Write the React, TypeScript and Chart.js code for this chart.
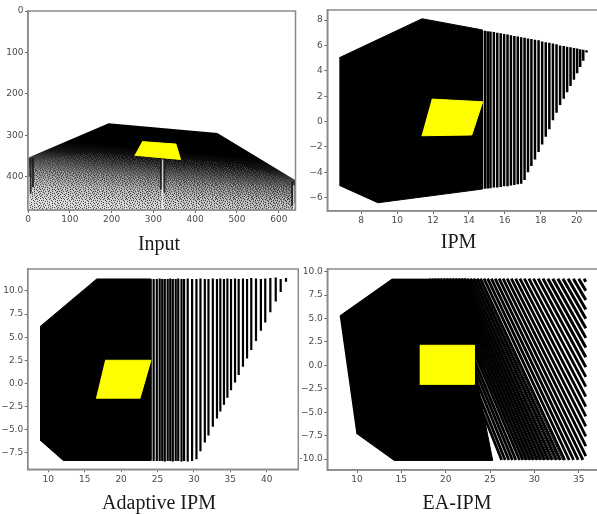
import React, { useEffect, useRef } from "react";
import { Chart, registerables } from "chart.js";

Chart.register(...registerables);

type Pt = [number, number];

// ---------- Input ----------
const inputHull: Pt[] = [[0, 354], [193, 271], [453, 294], [640, 408], [640, 480], [0, 480]];
const inputSpeckleA: Pt[] = [[2, 362], [150, 342], [300, 352], [500, 368], [638, 412], [638, 480], [2, 480]];
const inputSpeckleB: Pt[] = [[2, 380], [638, 425], [638, 480], [2, 480]];
const inputSpeckleC: Pt[] = [[2, 420], [638, 450], [638, 480], [2, 480]];
const inputYellow: Pt[] = [[273, 315], [354, 321], [365, 358], [255, 348]];
const inputDarkX = [6, 12, 318, 326, 632, 638];
const inputDarkTop = [356, 354, 358, 360, 412, 410];
const inputDarkBottom = [440, 425, 430, 438, 470, 465];
const inputLightX = [322, 2, 636];
const inputLightTop = [358, 400, 420];
const inputLightBottom = [480, 480, 480];
const inputXTicks = [0, 100, 200, 300, 400, 500, 600];
const inputYTicks = [0, 100, 200, 300, 400];
const inputGradientStops: [number, string][] = [
  [335, "#000000"], [360, "#161616"], [385, "#484848"], [410, "#787878"], [440, "#a8a8a8"], [480, "#d4d4d4"],
];
const speckleTile = [
  "#.o.#..o#.#o..#.o.",
  ".o#..o#...o.#o...#",
  "#..o#..#o#..o.#o..",
  ".#o...o..o#..#..o#",
  "o..#o#.#o...o..#..",
  ".#...o...#o#..o.#o",
  "..o#..#o..o..#.o..",
  "#o..#...#o.#o...#.",
  ".#.o..o#..o..#o..o",
  "o..#.#..o#..#..o#.",
  ".o#..o.#...o..#...",
  "#...#..o#o..#o.o#.",
  "..o#.o#...#...#..o",
  "o#...#..o.o#o...#.",
];

// ---------- IPM ----------
const ipmHull: Pt[] = [[6.78, 5.03], [11.39, 8.1], [14.75, 7.22], [14.75, -5.32], [8.93, -6.4], [6.78, -5.03]];
const ipmYellow: Pt[] = [[11.93, 1.77], [14.77, 1.56], [14.16, -1.06], [11.36, -1.12]];
const ipmStripeX = [20.55, 20.37, 20.2, 20.03, 19.85, 19.66, 19.47, 19.28, 19.08, 18.88, 18.68, 18.48, 18.28, 18.08, 17.88, 17.68, 17.48, 17.29, 17.1, 16.91, 16.72, 16.53, 16.34, 16.15, 15.96, 15.77, 15.58, 15.39, 15.2, 15.05, 14.89];
const ipmStripeTop = [5.62, 5.65, 5.7, 5.75, 5.8, 5.85, 5.9, 5.95, 6.0, 6.1, 6.15, 6.2, 6.25, 6.3, 6.4, 6.45, 6.5, 6.55, 6.6, 6.65, 6.7, 6.75, 6.8, 6.85, 6.9, 6.95, 7.0, 7.05, 7.1, 7.12, 7.15];
const ipmStripeBottom = [5.45, 4.8, 4.3, 3.8, 3.3, 2.8, 2.3, 1.8, 1.3, 0.7, 0.1, -0.6, -1.2, -1.8, -2.4, -3.0, -3.5, -4.0, -4.6, -4.9, -4.95, -5.0, -5.05, -5.1, -5.1, -5.15, -5.2, -5.2, -5.25, -5.27, -5.3];
const ipmXTicks = [8, 10, 12, 14, 16, 18, 20];
const ipmYTicks = [8, 6, 4, 2, 0, -2, -4, -6];

// ---------- Adaptive IPM ----------
const adaptiveHull: Pt[] = [[8.86, 6.14], [16.65, 11.3], [24.1, 11.3], [24.1, -8.35], [12.06, -8.35], [8.86, -6.13]];
const adaptiveYellow: Pt[] = [[17.8, 2.5], [24.1, 2.5], [22.6, -1.6], [16.55, -1.6]];
const adaptiveStripeX = [42.65, 41.92, 41.24, 40.5, 39.8, 39.2, 38.53, 37.88, 37.3, 36.74, 36.15, 35.65, 35.1, 34.6, 34.13, 33.63, 33.17, 32.6, 32.0, 31.5, 30.9, 30.35, 29.75, 29.15, 28.65, 28.3, 27.85, 27.5, 27.1, 26.75, 26.4, 26.0, 25.65, 25.3, 24.9, 24.47];
const adaptiveStripeTop = [11.4, 11.3, 11.45, 11.4, 11.35, 11.3, 11.35, 11.4, 11.3, 11.35, 11.3, 11.35, 11.3, 11.35, 11.3, 11.35, 11.3, 11.35, 11.3, 11.3, 11.35, 11.3, 11.3, 11.35, 11.3, 11.3, 11.35, 11.3, 11.3, 11.35, 11.3, 11.3, 11.3, 11.35, 11.3, 11.3];
const adaptiveStripeBottom = [11.0, 9.9, 8.85, 7.7, 6.6, 5.7, 4.6, 3.6, 2.7, 1.8, 0.9, 0.1, -0.75, -1.55, -2.3, -3.05, -3.8, -4.7, -5.65, -6.4, -7.35, -8.2, -8.4, -8.45, -8.4, -8.45, -8.4, -8.4, -8.45, -8.4, -8.4, -8.45, -8.4, -8.4, -8.4, -8.4];
const adaptiveXTicks = [10, 15, 20, 25, 30, 35, 40];
const adaptiveYTicks = [10, 7.5, 5, 2.5, 0, -2.5, -5, -7.5];

// ---------- EA-IPM ----------
const eaHull: Pt[] = [[8.05, 5.27], [13.95, 9.2], [22.4, 9.2], [23.3, 2], [23.6, -2], [25.3, -10.15], [14.2, -10.15], [9.92, -7.25]];
const eaYellow: Pt[] = [[17.07, 2.14], [23.23, 2.14], [23.23, -2.03], [17.07, -2.03]];
const eaWideStartX = [35.6, 35.0, 34.4, 33.8, 33.22, 32.65, 32.08, 31.52, 30.97, 30.43];
const eaWideEndY = [8.93, 7.97, 6.98, 5.97, 4.97, 3.96, 2.93, 1.9, 0.86, -0.19];
const eaWideEndX = 35.8;
const eaStripeStartX = [29.9, 29.38, 28.87, 28.37, 27.88, 27.4, 26.93, 26.47, 26.02, 25.58, 25.15, 24.73, 24.32, 23.92, 23.53, 23.15, 22.78, 22.42, 22.07, 21.73, 21.4, 21.07, 20.74, 20.41, 20.08, 19.75, 19.42, 19.1, 18.78, 18.46, 18.14];
const eaStripeEndX = [35.8, 35.8, 35.8, 35.8, 35.8, 35.8, 35.8, 35.8, 35.8, 35.47, 34.94, 34.42, 33.92, 33.42, 32.93, 32.48, 32.01, 31.57, 31.15, 30.73, 30.32, 29.91, 29.51, 29.1, 28.69, 28.32, 27.91, 27.52, 27.12, 26.7, 26.31];
const eaStripeEndY = [-1.23, -2.28, -3.35, -4.41, -5.44, -6.51, -7.58, -8.62, -9.7, -10.1, -10.1, -10.1, -10.1, -10.1, -10.1, -10.1, -10.1, -10.1, -10.1, -10.1, -10.1, -10.1, -10.1, -10.1, -10.1, -10.1, -10.1, -10.1, -10.1, -10.1, -10.1];
const eaStripeStartY = 9.25;
const eaFineStartX = [23.72, 23.34, 22.96, 22.6, 22.25, 21.9, 21.57, 21.24, 20.9, 20.58, 20.25];
const eaFineEndX = [33.2, 32.71, 32.25, 31.79, 31.36, 30.94, 30.53, 30.12, 29.7, 29.31, 28.9];
const eaFineEndY = -10.1;
const eaXTicks = [10, 15, 20, 25, 30, 35];
const eaYTicks = [10, 7.5, 5, 2.5, 0, -2.5, -5, -7.5, -10];

const TICK_COLOR = "#4a4a4a";
const FRAME_COLOR = "#8a8a8a";
const TITLE_FONT = "'Liberation Serif', 'Times New Roman', serif";
const TICK_FONT = "'DejaVu Sans', sans-serif";

const minus = (s: string) => s.replace("-", "\u2212");
const plainLabel = (v: number) => minus(String(v));
const fixedLabel = (v: number) => minus(v.toFixed(1));

const toPoints = (p: Pt[]) => p.map(([x, y]) => ({ x, y }));

const solid = (pts: Pt[], color: any, order: number) => ({
  data: toPoints(pts),
  showLine: true,
  fill: "shape",
  backgroundColor: color,
  borderColor: typeof color === "string" ? color : "rgba(0,0,0,0)",
  borderWidth: 1,
  pointRadius: 0,
  tension: 0,
  order,
});

const segments = (
  x0: number[], y0: number[], x1: number[], y1: number[], color: string, width: number, order: number,
) => ({
  data: x0.flatMap((x, i) => [
    { x, y: y0[i] },
    { x: x1[i], y: y1[i] },
    { x, y: null as any },
  ]),
  showLine: true,
  spanGaps: false,
  fill: false,
  borderColor: color,
  borderWidth: width,
  pointRadius: 0,
  tension: 0,
  order,
});

const frame = {
  id: "frame",
  afterDraw(chart: any) {
    const { ctx, chartArea: a } = chart;
    ctx.save();
    ctx.strokeStyle = FRAME_COLOR;
    ctx.lineWidth = 1.5;
    ctx.strokeRect(a.left, a.top, a.right - a.left, a.bottom - a.top);
    ctx.restore();
  },
};

const GRADIENT_TILT = 0.09;
const inputGradient = (c: any) => {
  const { x, y } = c.chart.scales;
  if (!x || !y) return "#000";
  const first = inputGradientStops[0][0];
  const last = inputGradientStops[inputGradientStops.length - 1][0];
  const p0 = y.getPixelForValue(first);
  const p1 = y.getPixelForValue(last);
  const cx = x.getPixelForValue(320);
  if (!Number.isFinite(p0) || !Number.isFinite(p1) || !Number.isFinite(cx)) return "#000";
  const g = c.chart.ctx.createLinearGradient(cx, p0, cx - (p1 - p0) * GRADIENT_TILT, p1);
  inputGradientStops.forEach(([v, col]) => g.addColorStop((v - first) / (last - first), col));
  return g;
};

const speckle = (darkAlpha: number, lightAlpha: number) => {
  let pattern: CanvasPattern | null = null;
  return (c: any) => {
    if (!pattern) {
      const tile = document.createElement("canvas");
      tile.width = speckleTile[0].length;
      tile.height = speckleTile.length;
      const t = tile.getContext("2d")!;
      speckleTile.forEach((row, j) =>
        row.split("").forEach((ch, i) => {
          if (ch === ".") return;
          t.fillStyle = ch === "#" ? `rgba(0,0,0,${darkAlpha})` : `rgba(255,255,255,${lightAlpha})`;
          t.fillRect(i, j, 1, 1);
        }),
      );
      pattern = c.chart.ctx.createPattern(tile, "repeat");
    }
    return pattern;
  };
};

type Panel = {
  title: string;
  left: number; top: number; width: number; height: number;
  padTop: number;
  axisWidth: number; rightWidth: number;
  titleTop: number; titleBottom: number;
  xRange: [number, number]; yRange: [number, number];
  reverse?: boolean;
  xTicks: number[]; yTicks: number[];
  yLabel: (v: number) => string;
  datasets: any[];
};

const panels: Panel[] = [
  {
    title: "Input",
    left: 0, top: 0, width: 318, height: 256,
    padTop: 11, axisWidth: 28, rightWidth: 22.5,
    titleTop: 9, titleBottom: 1,
    xRange: [0, 640], yRange: [480, 0], reverse: true,
    xTicks: inputXTicks, yTicks: inputYTicks, yLabel: plainLabel,
    datasets: [
      solid(inputYellow, "#ffff00", 0),
      segments(inputLightX, inputLightTop, inputLightX, inputLightBottom, "rgba(255,255,255,0.75)", 1.5, 1),
      segments(inputDarkX, inputDarkTop, inputDarkX, inputDarkBottom, "rgba(20,20,20,0.8)", 2, 2),
      solid(inputSpeckleC, speckle(0.3, 0.3), 3),
      solid(inputSpeckleB, speckle(0.3, 0.22), 4),
      solid(inputSpeckleA, speckle(0.25, 0.18), 5),
      solid(inputHull, inputGradient, 6),
    ],
  },
  {
    title: "IPM",
    left: 300, top: 0, width: 317.4, height: 256,
    padTop: 10, axisWidth: 27.3, rightWidth: 17.4,
    titleTop: 6.2, titleBottom: 2.8,
    xRange: [6.11, 21.28], yRange: [-7.05, 8.79],
    xTicks: ipmXTicks, yTicks: ipmYTicks, yLabel: plainLabel,
    datasets: [
      solid(ipmYellow, "#ffff00", 0),
      segments(ipmStripeX, ipmStripeBottom, ipmStripeX, ipmStripeTop, "#000000", 2.5, 1),
      solid(ipmHull, "#000000", 2),
    ],
  },
  {
    title: "Adaptive IPM",
    left: 0, top: 256, width: 318, height: 258,
    padTop: 13, axisWidth: 27.7, rightWidth: 19.7,
    titleTop: 8.2, titleBottom: 0.5,
    xRange: [7.17, 44.34], yRange: [-9.3, 12.38],
    xTicks: adaptiveXTicks, yTicks: adaptiveYTicks, yLabel: fixedLabel,
    datasets: [
      solid(adaptiveYellow, "#ffff00", 0),
      segments(adaptiveStripeX, adaptiveStripeBottom, adaptiveStripeX, adaptiveStripeTop, "#000000", 2.2, 1),
      solid(adaptiveHull, "#000000", 2),
    ],
  },
  {
    title: "EA-IPM",
    left: 300, top: 256, width: 314, height: 258,
    padTop: 13, axisWidth: 27.3, rightWidth: 14,
    titleTop: 7.5, titleBottom: 0.5,
    xRange: [6.65, 37.4], yRange: [-11.17, 10.28],
    xTicks: eaXTicks, yTicks: eaYTicks, yLabel: fixedLabel,
    datasets: [
      solid(eaYellow, "#ffff00", 0),
      segments(eaWideStartX, eaWideStartX.map(() => eaStripeStartY), eaWideStartX.map(() => eaWideEndX), eaWideEndY, "#000000", 3, 1),
      segments(eaStripeStartX, eaStripeStartX.map(() => eaStripeStartY), eaStripeEndX, eaStripeEndY, "#000000", 2.8, 2),
      segments(eaFineStartX, eaFineStartX.map(() => eaStripeStartY), eaFineEndX, eaFineEndX.map(() => eaFineEndY), "#000000", 1, 3),
      solid(eaHull, "#000000", 4),
    ],
  },
];

function PanelChart({ p }: { p: Panel }) {
  const ref = useRef<HTMLCanvasElement>(null);
  useEffect(() => {
    const tickOpts = {
      color: TICK_COLOR,
      font: { family: TICK_FONT, size: 9 },
      padding: 1.5,
      autoSkip: false,
      maxRotation: 0,
      minRotation: 0,
    };
    const grid = { drawOnChartArea: false, drawTicks: true, tickLength: 3, tickColor: "#666666", tickWidth: 1 };
    const border = { color: FRAME_COLOR, width: 1.5 };
    const chart = new Chart(ref.current!, {
      type: "scatter",
      data: { datasets: p.datasets },
      plugins: [frame],
      options: {
        animation: false,
        responsive: false,
        maintainAspectRatio: false,
        layout: { padding: { left: 0, right: 0, top: p.padTop, bottom: 0 } },
        plugins: {
          legend: { display: false },
          tooltip: { enabled: false },
          title: {
            display: true,
            text: p.title,
            position: "bottom",
            color: "#1a1a1a",
            font: { family: TITLE_FONT, size: 20, weight: "normal", lineHeight: 1 },
            padding: { top: p.titleTop, bottom: p.titleBottom },
          },
        },
        scales: {
          x: {
            type: "linear",
            min: p.xRange[0],
            max: p.xRange[1],
            grid,
            border,
            ticks: { ...tickOpts, callback: (v: any) => plainLabel(Number(v)) },
            afterBuildTicks: (s: any) => { s.ticks = p.xTicks.map((value) => ({ value })); },
            afterFit: (s: any) => { s.height = 16; },
          },
          y: {
            type: "linear",
            min: p.reverse ? p.yRange[1] : p.yRange[0],
            max: p.reverse ? p.yRange[0] : p.yRange[1],
            reverse: !!p.reverse,
            grid,
            border,
            ticks: { ...tickOpts, callback: (v: any) => p.yLabel(Number(v)) },
            afterBuildTicks: (s: any) => { s.ticks = p.yTicks.map((value) => ({ value })); },
            afterFit: (s: any) => { s.width = p.axisWidth; },
          },
          yRight: {
            axis: "y",
            type: "linear",
            position: "right",
            display: true,
            ticks: { display: false },
            grid: { display: false },
            border: { display: false },
            afterFit: (s: any) => { s.width = p.rightWidth; },
          },
        },
      },
    } as any);
    chart.update();
    return () => chart.destroy();
  }, [p]);
  return (
    <canvas
      ref={ref}
      width={p.width}
      height={p.height}
      style={{
        position: "absolute",
        left: p.left,
        top: p.top,
        width: p.width,
        height: p.height,
        filter: "blur(0.55px)",
      }}
    />
  );
}

export default function App() {
  return (
    <div style={{ position: "absolute", left: 0, top: 0, width: 597, height: 514, overflow: "hidden", background: "#fff" }}>
      {panels.map((p) => (
        <PanelChart key={p.title} p={p} />
      ))}
    </div>
  );
}
